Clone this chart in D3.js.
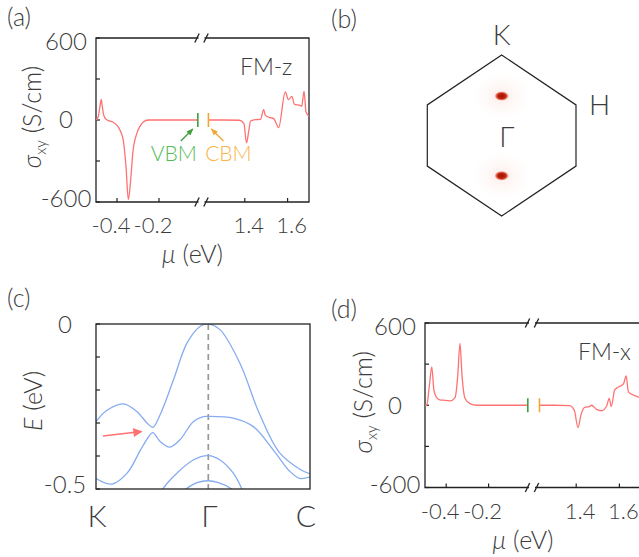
<!DOCTYPE html>
<html>
<head>
<meta charset="utf-8">
<script src="https://cdn.jsdelivr.net/npm/d3@7"></script>
<style>
  body { margin: 0; background: #fff; }
  svg text { font-family: Lato, "Liberation Sans", sans-serif; font-weight: 300; fill: #3c3c3c; }
</style>
</head>
<body>
<svg width="639" height="557"></svg>
<script>
// mu windows either side of the axis break (eV)
var muLow = [-0.5, 0.0];
var muHigh = [1.2, 1.7];
var sigmaTicks = [-600, -300, 0, 300, 600];
var sigmaLabels = [-600, 0, 600];
var muTicksLow = [-0.4, -0.2];
var muTicksHigh = [1.4, 1.6];
var vbm = -0.015, cbm = 1.23;

// FM-z : [mu, sigma_xy]
var fmzLow = [[-0.5,0],[-0.49,20],[-0.482,90],[-0.475,150],[-0.47,100],[-0.465,47],[-0.455,10],[-0.44,-5],
  [-0.42,-15],[-0.394,-51],[-0.38,-95],[-0.37,-149],[-0.357,-344],[-0.346,-582],[-0.335,-441],[-0.325,-246],
  [-0.306,-100],[-0.29,-45],[-0.275,-15],[-0.251,0],[-0.2,0],[-0.015,0]];
var fmzHigh = [[1.23,0],[1.3,0],[1.375,-2],[1.396,-27],[1.408,-168],[1.419,-75],[1.427,-7],[1.45,3],[1.473,4],
  [1.488,76],[1.496,34],[1.519,17],[1.535,10],[1.558,-56],[1.589,205],[1.604,149],[1.62,173],[1.632,115],
  [1.658,107],[1.666,100],[1.677,212],[1.686,58],[1.7,27]];

// FM-x
var fmxLow = [[-0.5,0],[-0.492,0],[-0.48,135],[-0.468,280],[-0.458,110],[-0.445,56],[-0.43,40],[-0.414,37],
  [-0.382,32],[-0.358,56],[-0.346,207],[-0.335,451],[-0.325,207],[-0.311,49],[-0.288,12],[-0.256,0],[-0.015,0]];
var fmxHigh = [[1.23,0],[1.3,0],[1.37,-3],[1.392,-40],[1.408,-163],[1.423,-65],[1.439,-15],[1.462,-10],
  [1.47,0],[1.494,-30],[1.517,-40],[1.541,-5],[1.553,50],[1.562,-10],[1.578,110],[1.592,130],[1.605,140],
  [1.62,160],[1.631,214],[1.642,97],[1.666,73],[1.69,60],[1.7,55]];

// bands along K - Gamma - C : [k, E]
var kLabels = ["K", "\u0393", "C"];
var energyTicks = [-0.5, -0.4, -0.3, -0.2, -0.1, 0];
var band1 = [[0,-0.296],[0.095,-0.262],[0.244,-0.242],[0.363,-0.265],[0.452,-0.299],[0.506,-0.313],[0.571,-0.275],
  [0.69,-0.169],[0.81,-0.058],[0.929,-0.007],[1,0],[1.115,-0.017],[1.31,-0.118],[1.5,-0.27],[1.7,-0.39],
  [1.9,-0.44],[2,-0.454]];
var band2 = [[0,-0.468],[0.143,-0.485],[0.277,-0.452],[0.396,-0.382],[0.47,-0.341],[0.506,-0.329],[0.571,-0.356],
  [0.658,-0.373],[0.747,-0.351],[0.866,-0.296],[0.955,-0.281],[1,-0.28],[1.246,-0.285],[1.443,-0.311],
  [1.64,-0.382],[1.803,-0.447],[1.9,-0.468],[2,-0.463]];
var band3 = [[0.55,-0.54],[0.595,-0.5],[0.72,-0.452],[0.866,-0.412],[1,-0.399],[1.115,-0.412],[1.246,-0.452],
  [1.33,-0.5],[1.38,-0.54]];
var band4 = [[0.75,-0.515],[0.8,-0.5],[0.9,-0.481],[1,-0.475],[1.1,-0.481],[1.23,-0.5],[1.28,-0.515]];

// Brillouin zone (b), normalised coords
var bzCorners = [[0,1],[1,0.38],[1,-0.38],[0,-1],[-1,-0.38],[-1,0.38]];
var berrySpots = [[0,0.49],[0,-0.5]];

var red = "#ff7272", blue = "#86acef", green = "#3f9f3f", orange = "#f0a735";
var svg = d3.select("svg");
var defs = svg.append("defs");

function marker(id, col) {
  defs.append("marker").attr("id", id).attr("viewBox", "0 0 10 10").attr("refX", 9).attr("refY", 5)
    .attr("markerWidth", 7).attr("markerHeight", 7).attr("markerUnits", "userSpaceOnUse").attr("orient", "auto")
    .append("path").attr("d", "M0,1L10,5L0,9z").attr("fill", col);
}
marker("arG", green); marker("arO", orange);
defs.append("marker").attr("id", "arR").attr("viewBox", "0 0 10 10").attr("refX", 9).attr("refY", 5)
  .attr("markerWidth", 11).attr("markerHeight", 9).attr("markerUnits", "userSpaceOnUse").attr("orient", "auto")
  .append("path").attr("d", "M0,0L10,5L0,10z").attr("fill", red);

function panelLabel(t, x, y) {
  svg.append("text").attr("x", x).attr("y", y).attr("font-size", 25).text(t);
}

function breakMark(g, x, y) {
  g.append("rect").attr("x", x - 3).attr("y", y - 3).attr("width", 6).attr("height", 6).attr("fill", "#fff");
  [-4.5, 4.5].forEach(function(d) {
    g.append("line").attr("x1", x + d - 2.2).attr("y1", y + 4.5).attr("x2", x + d + 2.2).attr("y2", y - 4.5)
      .attr("stroke", "#222").attr("stroke-width", 1.3);
  });
}

function sigmaPanel(o) {
  var g = svg.append("g");
  var xL = d3.scaleLinear().domain(muLow).range([o.x0, o.xb]);
  var xR = d3.scaleLinear().domain(muHigh).range([o.xb2, o.x1]);
  var y = d3.scaleLinear().domain([-600, 600]).range([o.y1, o.y0]);
  var xb = (o.xb + o.xb2) / 2;

  defs.append("clipPath").attr("id", o.id).append("rect")
    .attr("x", o.x0).attr("y", o.y0).attr("width", o.x1 - o.x0).attr("height", o.y1 - o.y0);

  // box
  g.append("path").attr("fill", "none").attr("stroke", "#222").attr("stroke-width", 1.3)
    .attr("d", "M" + o.x0 + "," + o.y0 + "H" + o.x1 + "V" + o.y1 + "H" + o.x0 + "Z");

  // ticks (inward)
  g.selectAll(".yt").data(sigmaTicks).enter().append("line")
    .attr("x1", o.x0).attr("x2", o.x0 + 4).attr("y1", y).attr("y2", y).attr("stroke", "#222").attr("stroke-width", 1.2);
  g.selectAll(".yl").data(sigmaLabels).enter().append("text")
    .attr("x", o.x0 - 30).attr("y", function(d) { return y(d) + (d > 0 ? 4 : d < 0 ? -3 : 0); })
    .attr("dy", "0.35em").attr("text-anchor", "middle").attr("font-size", 24)
    .text(function(d) { return d; });
  var xt = muTicksLow.map(function(d) { return [xL(d), d, -6]; })
    .concat(muTicksHigh.map(function(d) { return [xR(d), d, 4]; }));
  g.selectAll(".xt").data(xt).enter().append("line")
    .attr("x1", function(d) { return d[0]; }).attr("x2", function(d) { return d[0]; })
    .attr("y1", o.y1).attr("y2", o.y1 - 4).attr("stroke", "#222").attr("stroke-width", 1.2);
  g.selectAll(".xl").data(xt).enter().append("text")
    .attr("x", function(d) { return d[0] + d[2]; }).attr("y", o.y1 + 31).attr("text-anchor", "middle")
    .attr("font-size", 22).text(function(d) { return d[1].toFixed(1); });

  breakMark(g, xb, o.y0);
  breakMark(g, xb, o.y1);

  // curves
  var cl = g.append("g").attr("clip-path", "url(#" + o.id + ")");
  var lineL = d3.line().x(function(d) { return xL(d[0]); }).y(function(d) { return y(d[1]); }).curve(d3.curveMonotoneX);
  var lineR = d3.line().x(function(d) { return xR(d[0]); }).y(function(d) { return y(d[1]); }).curve(d3.curveMonotoneX);
  cl.append("path").datum(o.low).attr("d", lineL).attr("fill", "none").attr("stroke", red).attr("stroke-width", 1.3);
  cl.append("path").datum(o.high).attr("d", lineR).attr("fill", "none").attr("stroke", red).attr("stroke-width", 1.3);

  // band edges
  g.append("line").attr("x1", xL(vbm)).attr("x2", xL(vbm)).attr("y1", y(0) - 7).attr("y2", y(0) + 7)
    .attr("stroke", green).attr("stroke-width", 1.6);
  g.append("line").attr("x1", xR(cbm)).attr("x2", xR(cbm)).attr("y1", y(0) - 7).attr("y2", y(0) + 7)
    .attr("stroke", orange).attr("stroke-width", 1.6);

  if (o.edgeText) {
    g.append("line").attr("x1", xL(vbm) - 17).attr("y1", y(0) + 21).attr("x2", xL(vbm) - 5).attr("y2", y(0) + 9)
      .attr("stroke", green).attr("stroke-width", 1.3).attr("marker-end", "url(#arG)");
    g.append("line").attr("x1", xR(cbm) + 15).attr("y1", y(0) + 21).attr("x2", xR(cbm) + 3).attr("y2", y(0) + 9)
      .attr("stroke", orange).attr("stroke-width", 1.3).attr("marker-end", "url(#arO)");
    g.append("text").attr("x", xL(vbm) - 24).attr("y", y(0) + 41).attr("text-anchor", "middle")
      .attr("font-size", 21).style("fill", "#55bb55").text("VBM");
    g.append("text").attr("x", xR(cbm) + 20).attr("y", y(0) + 41).attr("text-anchor", "middle")
      .attr("font-size", 21).style("fill", "#f7b548").text("CBM");
  }

  g.append("text").attr("x", o.tagX).attr("y", o.tagY).attr("font-size", 23).text(o.tag);

  // axis titles
  var yl = g.append("text").attr("transform", "translate(" + o.ylx + "," + ((o.y0 + o.y1) / 2 - 3) + ") rotate(-90)")
    .attr("text-anchor", "middle").attr("font-size", 25);
  yl.append("tspan").attr("font-style", "italic").text("\u03c3");
  yl.append("tspan").attr("font-size", 15).attr("dy", 5).text("xy");
  yl.append("tspan").attr("dy", -5).text(" (S/cm)");
  var xl = g.append("text").attr("x", (o.x0 + o.x1) / 2 - 10).attr("y", o.y1 + 61).attr("text-anchor", "middle")
    .attr("font-size", 25);
  xl.append("tspan").attr("font-style", "italic").text("\u03bc");
  xl.append("tspan").text(" (eV)");
}

// (a)
panelLabel("(a)", 7, 26);
sigmaPanel({ id: "clipA", x0: 96, xb: 201, xb2: 202, x1: 309, y0: 38, y1: 202, low: fmzLow, high: fmzHigh,
  tag: "FM-z", tagX: 240, tagY: 75, edgeText: true, ylx: 41 });

// (d)
panelLabel("(d)", 331, 318);
sigmaPanel({ id: "clipD", x0: 425, xb: 531, xb2: 533, x1: 641, y0: 323, y1: 487.5, low: fmxLow, high: fmxHigh,
  tag: "FM-x", tagX: 578, tagY: 360, edgeText: false, ylx: 372 });

// (b) Brillouin zone with Berry curvature hot spots
panelLabel("(b)", 331, 28);
var bx = d3.scaleLinear().domain([-1, 1]).range([427.3, 576]);
var by = d3.scaleLinear().domain([1, -1]).range([55, 216]);
var halo = defs.append("radialGradient").attr("id", "halo");
halo.append("stop").attr("offset", "0%").attr("stop-color", "#f5c4b6").attr("stop-opacity", 0.3);
halo.append("stop").attr("offset", "100%").attr("stop-color", "#fbe3dc").attr("stop-opacity", 0);
var core = defs.append("radialGradient").attr("id", "core");
core.append("stop").attr("offset", "0%").attr("stop-color", "#9e1203");
core.append("stop").attr("offset", "55%").attr("stop-color", "#c2240c");
core.append("stop").attr("offset", "80%").attr("stop-color", "#e6664e").attr("stop-opacity", 0.7);
core.append("stop").attr("offset", "100%").attr("stop-color", "#fbd6cc").attr("stop-opacity", 0);
var gb = svg.append("g");
gb.selectAll(".halo").data(berrySpots).enter().append("ellipse")
  .attr("cx", function(d) { return bx(d[0]); }).attr("cy", function(d) { return by(d[1]); })
  .attr("rx", 30).attr("ry", 24).attr("fill", "url(#halo)");
gb.selectAll(".spot").data(berrySpots).enter().append("ellipse")
  .attr("cx", function(d) { return bx(d[0]); }).attr("cy", function(d) { return by(d[1]); })
  .attr("rx", 7.5).attr("ry", 5).attr("fill", "url(#core)");
gb.append("path").datum(bzCorners)
  .attr("d", d3.line().x(function(d) { return bx(d[0]); }).y(function(d) { return by(d[1]); }).curve(d3.curveLinearClosed))
  .attr("fill", "none").attr("stroke", "#222").attr("stroke-width", 1.2);
gb.append("text").attr("x", bx(0)).attr("y", 45).attr("text-anchor", "middle").attr("font-size", 28).text("K");
gb.append("text").attr("x", 589).attr("y", 115).attr("font-size", 28).text("H");
gb.append("text").attr("x", bx(0.07)).attr("y", 147).attr("text-anchor", "middle").attr("font-size", 28).text("\u0393");

// (c) band structure
panelLabel("(c)", 7, 307);
var cx0 = 96, cx1 = 310, cy0 = 324, cy1 = 489;
var kx = d3.scaleLinear().domain([0, 1, 2]).range([cx0, 208.3, cx1]);
var ey = d3.scaleLinear().domain([-0.5, 0]).range([cy1, cy0]);
var gc = svg.append("g");
defs.append("clipPath").attr("id", "clipC").append("rect")
  .attr("x", cx0).attr("y", cy0).attr("width", cx1 - cx0).attr("height", cy1 - cy0);
gc.append("line").attr("x1", kx(1)).attr("x2", kx(1)).attr("y1", cy0).attr("y2", cy1)
  .attr("stroke", "#999").attr("stroke-width", 1.7).attr("stroke-dasharray", "6,4");
var bandLine = d3.line().x(function(d) { return kx(d[0]); }).y(function(d) { return ey(d[1]); })
  .curve(d3.curveCatmullRom.alpha(0.5));
gc.append("g").attr("clip-path", "url(#clipC)").selectAll("path").data([band1, band2, band3, band4]).enter()
  .append("path").attr("d", bandLine).attr("fill", "none").attr("stroke", blue).attr("stroke-width", 1.3);
gc.append("rect").attr("x", cx0).attr("y", cy0).attr("width", cx1 - cx0).attr("height", cy1 - cy0)
  .attr("fill", "none").attr("stroke", "#222").attr("stroke-width", 1.3);
gc.selectAll(".et").data(energyTicks).enter().append("line")
  .attr("x1", cx0).attr("x2", cx0 + 4).attr("y1", ey).attr("y2", ey).attr("stroke", "#222").attr("stroke-width", 1.2);
gc.selectAll(".el").data([-0.5, 0]).enter().append("text")
  .attr("x", 65).attr("y", function(d) { return ey(d) + (d < 0 ? -4 : 1); }).attr("dy", "0.35em")
  .attr("text-anchor", "middle").attr("font-size", 24).text(function(d) { return d; });
gc.selectAll(".kl").data(kLabels).enter().append("text")
  .attr("x", function(d, i) { return kx(i) + (i === 2 ? -4 : 1); }).attr("y", 527)
  .attr("text-anchor", "middle").attr("font-size", 30).text(function(d) { return d; });
var et = gc.append("text").attr("transform", "translate(42," + 401 + ") rotate(-90)").attr("text-anchor", "middle")
  .attr("font-size", 25);
et.append("tspan").attr("font-style", "italic").text("E");
et.append("tspan").text(" (eV)");
gc.append("line").attr("x1", 103).attr("y1", 436).attr("x2", 141.5).attr("y2", 431.5)
  .attr("stroke", red).attr("stroke-width", 1.6).attr("marker-end", "url(#arR)");
</script>
</body>
</html>
